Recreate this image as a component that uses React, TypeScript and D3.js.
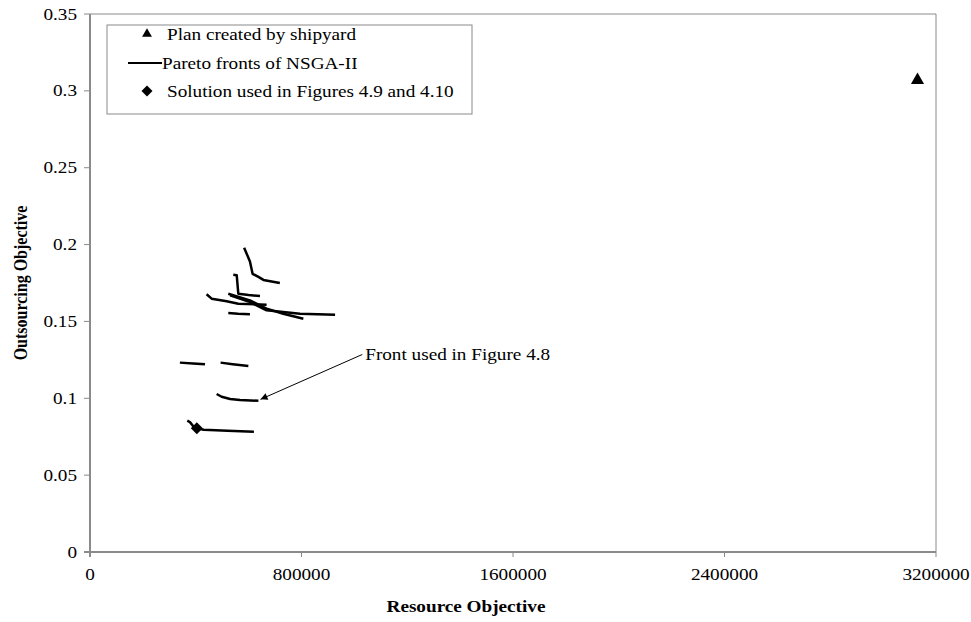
import React from "react";
import * as d3 from "d3";

// Pareto fronts found by NSGA-II: [resource objective, outsourcing objective]
const frontA: [number, number][] = [
  [583000, 0.198], [605000, 0.189], [615000, 0.181], [637000, 0.179], [656000, 0.177], [718000, 0.175],
];
const frontB: [number, number][] = [
  [542000, 0.1804], [555000, 0.18], [561000, 0.168], [600000, 0.1672], [643000, 0.1665],
];
const frontC: [number, number][] = [
  [441000, 0.1677], [460000, 0.1648], [517000, 0.1631], [561000, 0.1615], [668000, 0.1609],
];
const frontD: [number, number][] = [
  [523000, 0.168], [605000, 0.1637], [668000, 0.1583], [731000, 0.155], [807000, 0.1518],
];
const frontE: [number, number][] = [
  [530000, 0.167], [600000, 0.163], [668000, 0.1572], [794000, 0.155], [927000, 0.1544],
];
const frontF: [number, number][] = [
  [523000, 0.1555], [560000, 0.155], [605000, 0.1546],
];
const frontG1: [number, number][] = [
  [340000, 0.1232], [390000, 0.1226], [435000, 0.1221],
];
const frontG2: [number, number][] = [
  [494000, 0.1232], [540000, 0.1222], [599000, 0.121],
];
const frontH: [number, number][] = [
  [479000, 0.1028], [498000, 0.101], [530000, 0.0995], [567000, 0.0989], [637000, 0.0984],
];
const frontI: [number, number][] = [
  [368000, 0.0854], [378000, 0.0845], [392000, 0.0815], [404000, 0.0805], [430000, 0.0795],
  [520000, 0.0789], [620000, 0.0783],
];
const paretoFronts = [frontA, frontB, frontC, frontD, frontE, frontF, frontG1, frontG2, frontH, frontI];

const shipyardPlan: [number, number] = [3130000, 0.307];
const chosenSolution: [number, number] = [404000, 0.0805];

// Annotation pointing at the front used in Figure 4.8
const arrowTip: [number, number] = [645000, 0.0993];
const arrowTail: [number, number] = [1030000, 0.1285];
const annotationAnchor: [number, number] = [1041000, 0.1248];
const annotationText = "Front used in Figure 4.8";

const xTicks = [0, 800000, 1600000, 2400000, 3200000];
const yTicks = [0, 0.05, 0.1, 0.15, 0.2, 0.25, 0.3, 0.35];
const xTitle = "Resource Objective";
const yTitle = "Outsourcing Objective";
const legendLabels = [
  "Plan created by shipyard",
  "Pareto fronts of NSGA-II",
  "Solution used in Figures 4.9 and 4.10",
];

const W = 971;
const H = 622;
const plot = { left: 90, right: 936, top: 14, bottom: 552 };
const FONT = "'Liberation Serif', 'Times New Roman', serif";
const SX = 1.2; // glyphs are drawn slightly wide
const AXIS = "#8a8a8a";

function Label(props: {
  x: number; y: number; anchor?: string; bold?: boolean; rotate?: boolean; size?: number; children: React.ReactNode;
}) {
  const { x, y, anchor = "start", bold, rotate, size = 16, children } = props;
  return (
    <g transform={`translate(${x},${y}) scale(${SX},1)${rotate ? " rotate(-90)" : ""}`}>
      <text textAnchor={anchor} fontWeight={bold ? "bold" : "normal"} fontSize={size} fontFamily={FONT} fill="#000">
        {children}
      </text>
    </g>
  );
}

export default function App() {
  const x = d3.scaleLinear().domain([0, 3200000]).range([plot.left, plot.right]);
  const y = d3.scaleLinear().domain([0, 0.35]).range([plot.bottom, plot.top]);
  const line = d3.line<[number, number]>().x((d) => x(d[0])).y((d) => y(d[1]));

  const tri = d3.symbol().type(d3.symbolTriangle).size(75)();
  const triSmall = d3.symbol().type(d3.symbolTriangle).size(42)();
  const diamond = (r: number) => `M0,${-r}L${r},0L0,${r}L${-r},0Z`;

  const lg = { x: 107, y: 25, w: 365, h: 89 };
  const rowY = [34, 63, 91];

  return (
    <svg width={W} height={H} style={{ position: "absolute", left: 0, top: 0, background: "#fff" }}>
      <defs>
        <marker id="head" viewBox="0 0 10 10" refX="10" refY="5" markerWidth="9" markerHeight="7" orient="auto" markerUnits="userSpaceOnUse">
          <path d="M0,0L10,5L0,10Z" fill="#000" />
        </marker>
      </defs>

      {/* plot frame */}
      <line x1={plot.left} x2={plot.right} y1={plot.top} y2={plot.top} stroke={AXIS} strokeWidth={1} />
      <line x1={plot.right} x2={plot.right} y1={plot.top} y2={plot.bottom} stroke={AXIS} strokeWidth={1} />
      <line x1={plot.left} x2={plot.left} y1={plot.top} y2={plot.bottom + 5} stroke={AXIS} strokeWidth={2} />
      <line x1={plot.left - 6} x2={plot.right} y1={plot.bottom} y2={plot.bottom} stroke={AXIS} strokeWidth={2} />

      {yTicks.map((t) => (
        <g key={"y" + t}>
          <line x1={plot.left - 6} x2={plot.left} y1={y(t)} y2={y(t)} stroke={AXIS} strokeWidth={1} />
          <Label x={77} y={y(t) + 5.5} anchor="end">{String(t)}</Label>
        </g>
      ))}
      {xTicks.map((t) => (
        <g key={"x" + t}>
          <line x1={x(t)} x2={x(t)} y1={plot.bottom} y2={plot.bottom + 5} stroke={AXIS} strokeWidth={1} />
          <Label x={x(t)} y={580} anchor="middle">{String(t)}</Label>
        </g>
      ))}

      <Label x={466} y={612} anchor="middle" bold>{xTitle}</Label>
      <Label x={27} y={(plot.top + plot.bottom) / 2} anchor="middle" bold rotate>{yTitle}</Label>

      {/* Pareto fronts */}
      {paretoFronts.map((f, i) => (
        <path key={i} d={line(f) ?? ""} fill="none" stroke="#000" strokeWidth={2.5} strokeLinejoin="round" />
      ))}

      <path d={tri ?? ""} transform={`translate(${x(shipyardPlan[0])},${y(shipyardPlan[1])})`} fill="#000" />
      <path d={diamond(6)} transform={`translate(${x(chosenSolution[0])},${y(chosenSolution[1])})`} fill="#000" />

      {/* annotation */}
      <line x1={x(arrowTail[0])} y1={y(arrowTail[1])} x2={x(arrowTip[0])} y2={y(arrowTip[1])} stroke="#000" strokeWidth={1} markerEnd="url(#head)" />
      <Label x={x(annotationAnchor[0])} y={y(annotationAnchor[1])}>{annotationText}</Label>

      {/* legend */}
      <rect x={lg.x} y={lg.y} width={lg.w} height={lg.h} fill="#fff" stroke={AXIS} strokeWidth={1} />
      <path d={triSmall ?? ""} transform={`translate(147,${rowY[0]})`} fill="#000" />
      <line x1={128} x2={162} y1={rowY[1]} y2={rowY[1]} stroke="#000" strokeWidth={2} />
      <path d={diamond(5.5)} transform={`translate(147,${rowY[2]})`} fill="#000" />
      <Label x={167} y={rowY[0] + 5.5}>{legendLabels[0]}</Label>
      <Label x={162} y={rowY[1] + 5.5}>{legendLabels[1]}</Label>
      <Label x={167} y={rowY[2] + 5.5}>{legendLabels[2]}</Label>
    </svg>
  );
}
